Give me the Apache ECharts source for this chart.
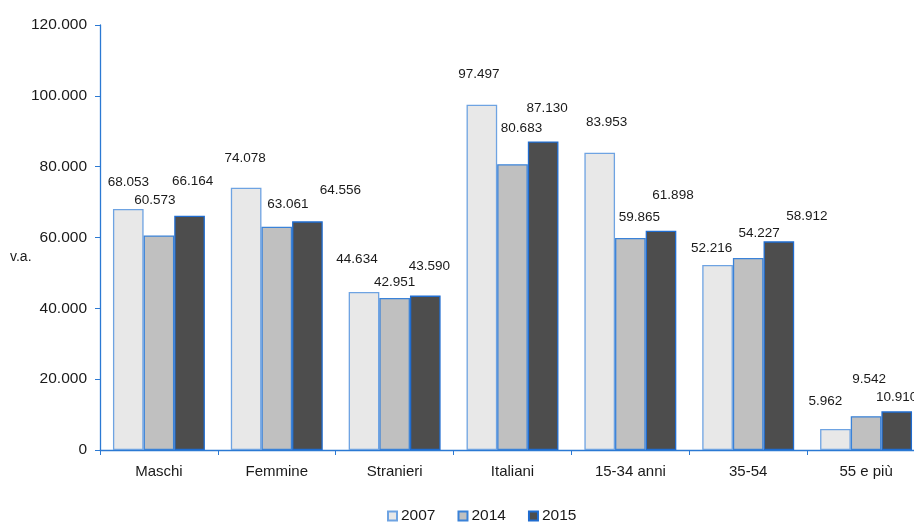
<!DOCTYPE html>
<html>
<head>
<meta charset="utf-8">
<script src="https://cdn.jsdelivr.net/npm/echarts@6/dist/echarts.min.js"></script>
<style>
  html, body { margin: 0; padding: 0; background: #ffffff; }
  #chart { width: 914px; height: 522px; }
</style>
</head>
<body>
<div id="chart"></div>
<script>
// Categories and yearly values (absolute values)
const categories = ['Maschi', 'Femmine', 'Stranieri', 'Italiani', '15-34 anni', '35-54', '55 e più'];
const years = ['2007', '2014', '2015'];
const values2007 = [68053, 74078, 44634, 97497, 83953, 52216, 5962];
const values2014 = [60573, 63061, 42951, 80683, 59865, 54227, 9542];
const values2015 = [66164, 64556, 43590, 87130, 61898, 58912, 10910];
const yTicks = { min: 0, max: 120000, interval: 20000 };

// Hand placement of each value label: [dx, distance above the bar top]
const labelPlace2007 = [[0, 27], [-1, 29], [-7, 33], [-3, 30], [7, 30], [-6, 17], [-10, 28]];
const labelPlace2014 = [[-4, 35], [11, 22], [0, 16], [9, 36], [9, 21], [11, 25], [3, 37]];
const labelPlace2015 = [[3, 34], [33, 31], [4, 29], [4, 33], [12, 35], [28, 25], [0, 14]];

const AXIS_BLUE = '#2b79d3';
const FONT = 'Liberation Sans, Arial, sans-serif';

function fmt(v) {
  return String(v).replace(/\B(?=(\d{3})+(?!\d))/g, '.');
}

function buildSeries(name, vals, places, fill, border) {
  return {
    name: name,
    type: 'bar',
    barGap: '0%',
    barCategoryGap: '22%',
    itemStyle: { color: fill, borderColor: border, borderWidth: 1.3 },
    data: vals.map((v, i) => ({
      value: v,
      label: { offset: [places[i][0], -places[i][1]] }
    })),
    label: {
      show: true,
      position: ['50%', 0],
      align: 'center',
      verticalAlign: 'middle',
      fontFamily: FONT,
      fontSize: 13.5,
      color: '#1a1a1a',
      formatter: p => fmt(p.value)
    }
  };
}

const chart = echarts.init(document.getElementById('chart'), null, { renderer: 'canvas' });

chart.setOption({
  backgroundColor: '#ffffff',
  animation: false,
  grid: { left: 100, right: -11, top: 25, bottom: 72, containLabel: false, outerBoundsMode: 'none' },
  legend: {
    data: years,
    left: 387,
    top: 508,
    padding: 0,
    icon: 'rect',
    itemWidth: 9,
    itemHeight: 9,
    itemGap: 22,
    textStyle: { fontFamily: FONT, fontSize: 15.5, color: '#1a1a1a', padding: [0, 0, 0, -1] }
  },
  xAxis: {
    type: 'category',
    data: categories,
    axisLine: { lineStyle: { color: AXIS_BLUE, width: 1.3 } },
    axisTick: { show: true, length: 5, lineStyle: { color: AXIS_BLUE } },
    axisLabel: { fontFamily: FONT, fontSize: 15, color: '#1a1a1a', margin: 14 }
  },
  yAxis: {
    type: 'value',
    min: yTicks.min,
    max: yTicks.max,
    interval: yTicks.interval,
    splitLine: { show: false },
    axisLine: { show: true, lineStyle: { color: AXIS_BLUE, width: 1.3 } },
    axisTick: { show: true, length: 5, lineStyle: { color: AXIS_BLUE } },
    axisLabel: {
      fontFamily: FONT,
      fontSize: 15.5,
      color: '#1a1a1a',
      margin: 13,
      formatter: v => fmt(v)
    }
  },
  graphic: [{
    type: 'text',
    left: 10,
    top: 250,
    style: { text: 'v.a.', font: '14px "Liberation Sans", Arial, sans-serif', fill: '#1a1a1a' }
  }],
  series: [
    buildSeries(years[0], values2007, labelPlace2007, '#e8e8e8', '#6ea3e2'),
    buildSeries(years[1], values2014, labelPlace2014, '#c0c0c0', '#3a82d8'),
    buildSeries(years[2], values2015, labelPlace2015, '#4d4d4d', '#1f6cd0')
  ]
});
</script>
</body>
</html>
